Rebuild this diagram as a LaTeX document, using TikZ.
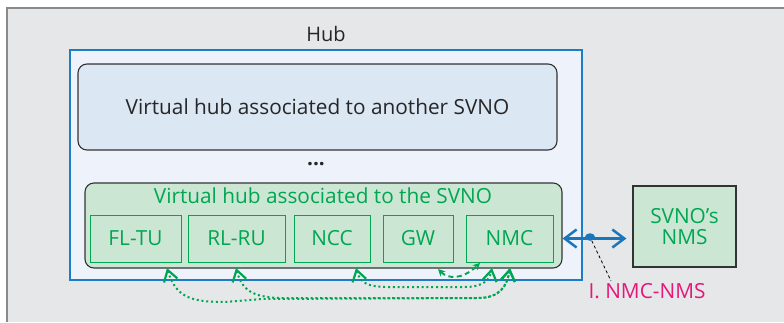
\documentclass[tikz,border=0pt]{standalone}
\usepackage{fontspec}
\setmainfont{Open Sans}
\usetikzlibrary{arrows.meta,calc,shapes.geometric}

\definecolor{bggray}{HTML}{E6E7E8}
\definecolor{framegray}{HTML}{8A8A8A}
\definecolor{hubfill}{HTML}{EEF3FB}
\definecolor{hubblue}{HTML}{1C7CC6}
\definecolor{otherfill}{HTML}{DCE7F4}
\definecolor{darkline}{HTML}{333333}
\definecolor{svnofill}{HTML}{CCE6D4}
\definecolor{svnogreen}{HTML}{00A651}
\definecolor{linkblue}{HTML}{1A75BB}
\definecolor{ifacepink}{HTML}{E5177B}

\newcommand\labelsize{\fontsize{20.8}{22}\selectfont}

\tikzset{
  lbl/.style={font=\labelsize, text=black!85},
  vhub/.style={draw=darkline, line width=1.1pt, rounded corners=9pt},
  funcbox/.style={draw=svnogreen, line width=1pt, fill=svnofill, minimum height=47pt,
    inner sep=0pt, font=\labelsize, text=svnogreen},
  ctrlflow/.style={svnogreen, line width=2pt, dash pattern=on 2pt off 2.8pt,
    {Straight Barb[length=11pt,width=14pt,line width=2.2pt]}-{Straight Barb[length=11pt,width=14pt,line width=2.2pt]}},
  gwflow/.style={svnogreen, line width=1.9pt, dash pattern=on 5pt off 3.5pt,
    {Stealth[length=7pt,width=7pt]}-{Stealth[length=7pt,width=7pt]}},
}

\begin{document}
\begin{tikzpicture}[x=1pt,y=-1pt]
\useasboundingbox (0,0) rectangle (784,322);

% framed background panel
\fill[bggray] (7,8) rectangle (784,322);
\draw[framegray, line width=1.6pt] (7,322) -- (7,8) -- (784,8);

% hub
\node[draw=hubblue, line width=1.1pt, fill=hubfill, minimum width=512pt, minimum height=230pt]
  (hub) at (326,165) {};
\node[lbl, font=\fontsize{20}{22}\selectfont] (hubname) at (326,34) {Hub};

% virtual hub of another operator
\node[vhub, fill=otherfill, minimum width=479pt, minimum height=86pt, lbl]
  (vother) at (317.5,107) {Virtual hub associated to another SVNO};
\node[font=\labelsize\bfseries, text=black!85] (dots) at (316,164) {...};

% virtual hub of this operator
\node[vhub, fill=svnofill, minimum width=477pt, minimum height=85pt] (vsvno) at (323.5,225.5) {};
\node[font=\labelsize, text=svnogreen] (vsvnoname) at (323,196)
  {Virtual hub associated to the SVNO};

\node[funcbox, minimum width=91pt] (fltu) at (135.5,238.5) {FL-TU};
\node[funcbox, minimum width=97pt] (rlru) at (236.5,238.5) {RL-RU};
\node[funcbox, minimum width=76pt] (ncc)  at (332,238.5) {NCC};
\node[funcbox, minimum width=70pt] (gw)   at (418,238.5) {GW};
\node[funcbox, minimum width=87pt] (nmc)  at (509.5,238.5) {NMC};

% operator's network management system
\node[draw=darkline, line width=1.2pt, fill=svnofill, minimum width=103pt, minimum height=81pt,
  align=center, font=\fontsize{20.8}{21}\selectfont, text=svnogreen]
  (nms) at (684.5,226.5) {SVNO’s\\NMS};

% NMC-NMS interface
\coordinate (linkL) at (vsvno.east |- nmc);
\coordinate (linkR) at ([xshift=-6pt]nms.west |- nmc);
\draw[linkblue, line width=2.5pt,
  {Straight Barb[length=12pt,width=18pt,line width=2.5pt]}-{Straight Barb[length=12pt,width=18pt,line width=2.5pt]}]
  (linkL) -- (linkR);
\node[ellipse, fill=linkblue, inner sep=0pt, minimum width=10pt, minimum height=7.5pt] (tap) at (590,237) {};
\node[font=\labelsize, text=ifacepink] (iface) at (647,291) {I. NMC-NMS};
\coordinate (ifacetop) at (611,281);
\draw[black, line width=0.8pt, dash pattern=on 3pt off 2.5pt] (tap) -- (ifacetop);

% control flows towards the NMC
\coordinate (pFL)  at (167,268);
\coordinate (pRL)  at (236,268);
\coordinate (pNCC) at (356,268);
\coordinate (pNa)  at (492,268);
\coordinate (pNb)  at (510,268);
\coordinate (pGW)  at (438,269);
\coordinate (pNc)  at (480,263);

\draw[ctrlflow] (pFL) .. controls (176,298) and (192,302) .. (225,302)
  -- (262,299) -- (478,298) .. controls (500,298) and (507,286) .. (pNb);
\draw[ctrlflow] (pRL) .. controls (242,290) and (252,297) .. (280,298)
  -- (478,298) .. controls (500,298) and (507,286) .. (pNb);
\draw[ctrlflow] (pNCC) .. controls (360,283) and (368,287) .. (388,287)
  -- (465,287) .. controls (484,287) and (490,279) .. (pNa);
\draw[gwflow] (pGW) .. controls (448,279) and (462,280) .. (pNc);
\end{tikzpicture}
\end{document}
